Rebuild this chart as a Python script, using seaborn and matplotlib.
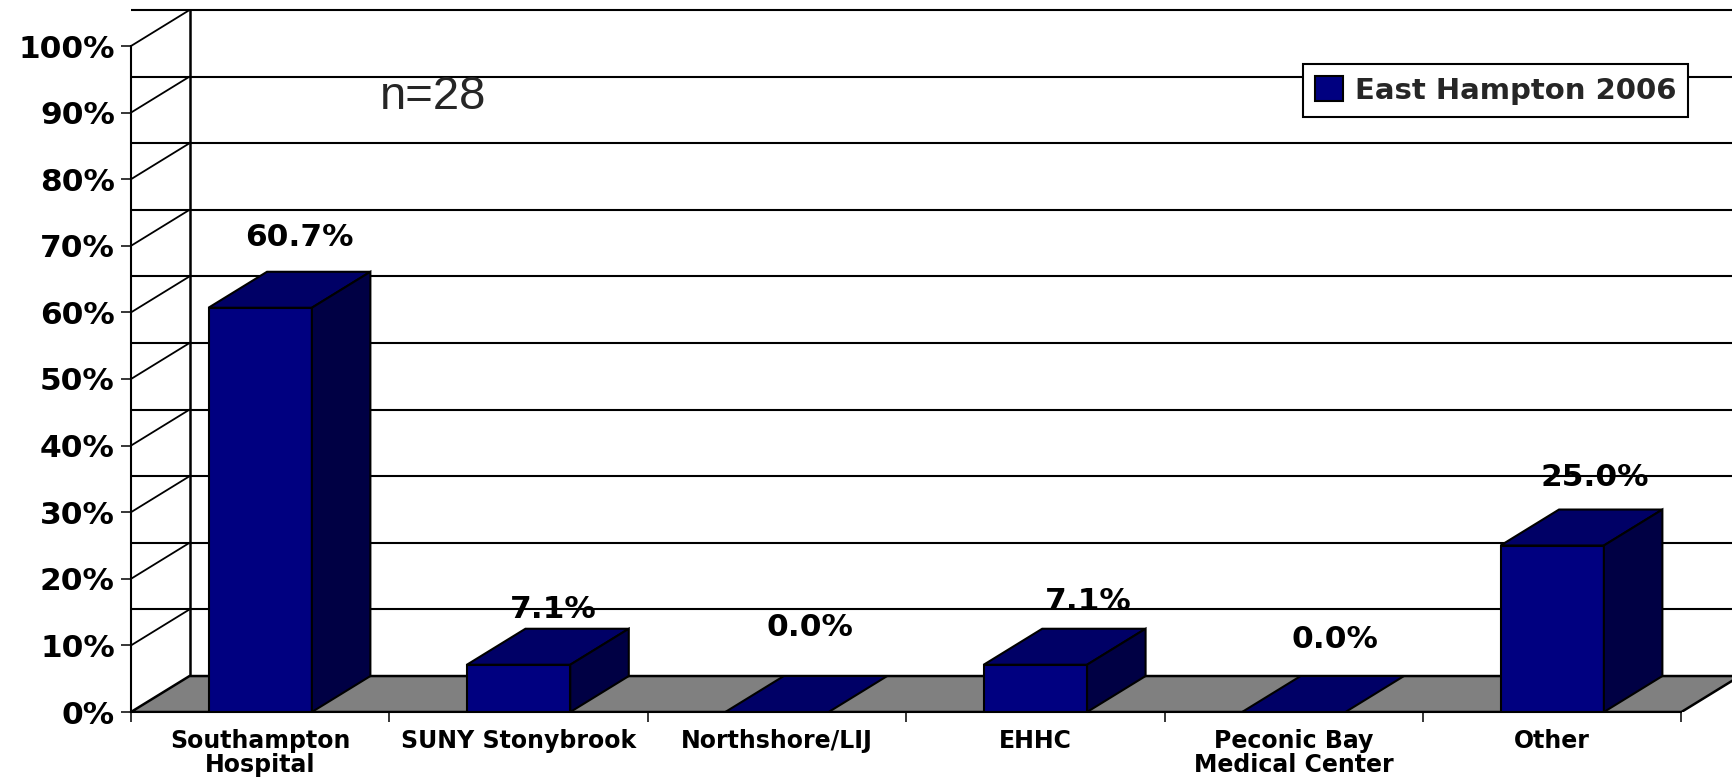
import matplotlib
matplotlib.use("Agg")
import matplotlib.pyplot as plt
import seaborn as sns
from matplotlib.patches import Polygon

# --- data ---
hopitaux = ["Southampton\nHospital", "SUNY Stonybrook", "Northshore/LIJ",
            "EHHC", "Peconic Bay\nMedical Center", "Other"]
valeurs = [60.7, 7.1, 0.0, 7.1, 0.0, 25.0]
etiquettes = ["60.7%", "7.1%", "0.0%", "7.1%", "0.0%", "25.0%"]
graduations = list(range(0, 101, 10))
serie = "East Hampton 2006"

# where each value label sits relative to its bar (pixels)
label_dx = [39, 35, 33, 53, 41, 43]
label_dy = [70, 55, 84, 63, 72, 68]

# --- colours and pseudo 3D depth ---
FACE = "#000080"
TOP = "#000066"
SIDE = "#000044"
FLOOR = "#808080"
DEPTH_X = 0.2264   # in categories
DEPTH_Y = 5.4      # in percent
LW = 1.5

sns.set_theme(style="white")
plt.rcParams["font.family"] = ["DejaVu Sans"]

fig = plt.figure(figsize=(17.32, 7.81), dpi=100)
ax = fig.add_axes([131 / 1732, 69 / 781, 1601 / 1732, 712 / 781])

sns.barplot(x=hopitaux, y=valeurs, color=FACE, saturation=1, width=0.4, ax=ax,
            edgecolor="black", linewidth=LW, zorder=4, label=serie)

ax.set_xlim(-0.5, -0.5 + 1601 / 258.4)
ax.set_ylim(0, 712 / 6.66)

# back wall and left wall
ax.vlines(-0.5 + DEPTH_X, DEPTH_Y, 100 + DEPTH_Y, color="black", lw=LW + 0.3, zorder=2)
for g in graduations[1:]:
    ax.axhline(g + DEPTH_Y, xmin=0, color="black", lw=LW, zorder=1)
    ax.plot([-0.5, -0.5 + DEPTH_X], [g, g + DEPTH_Y], color="black", lw=LW - 0.2, zorder=2)
ax.add_patch(Polygon([(-0.5, 0), (5.5, 0), (5.5 + DEPTH_X, DEPTH_Y), (-0.5 + DEPTH_X, DEPTH_Y)],
                     facecolor=FLOOR, edgecolor="black", lw=LW + 0.3, zorder=3))
ax.plot([-0.5, 5.5], [0, 0], color="black", lw=LW + 0.5, zorder=3.5)

# top and side faces built from the bars seaborn drew
for rect in ax.containers[0]:
    x0, w, h = rect.get_x(), rect.get_width(), rect.get_height()
    x1 = x0 + w
    ax.add_patch(Polygon([(x0, h), (x1, h), (x1 + DEPTH_X, h + DEPTH_Y), (x0 + DEPTH_X, h + DEPTH_Y)],
                         facecolor=TOP, edgecolor="black", lw=LW, zorder=5))
    if h > 0:
        ax.add_patch(Polygon([(x1, 0), (x1 + DEPTH_X, DEPTH_Y), (x1 + DEPTH_X, h + DEPTH_Y), (x1, h)],
                             facecolor=SIDE, edgecolor="black", lw=LW, zorder=5))

# value labels
for rect, txt, dx, dy in zip(ax.containers[0], etiquettes, label_dx, label_dy):
    ax.annotate(txt, (rect.get_x() + rect.get_width() / 2, rect.get_height()),
                xytext=(dx, dy), textcoords="offset pixels", ha="center", va="center",
                fontsize=22.5, fontweight="bold", color="black", zorder=8)

ax.text(0.5 + 0.17, 92.3, "n=28", fontsize=34, family="Liberation Sans", ha="center", va="center", zorder=8)

# axes and ticks
for s in ["top", "right"]:
    ax.spines[s].set_visible(False)
ax.spines["left"].set_bounds(0, 100)
ax.spines["bottom"].set_bounds(-0.5, 5.5)
ax.spines["left"].set_linewidth(LW)
ax.spines["bottom"].set_linewidth(LW)
ax.spines["left"].set_color("black")
ax.spines["bottom"].set_color("black")

ax.set_yticks(graduations, [f"{g}%" for g in graduations])
ax.tick_params(axis="y", left=True, length=7.2, width=LW - 0.2, pad=4.5, labelsize=22.5, labelcolor="black")
for t in ax.get_yticklabels():
    t.set_fontweight("bold")

ax.set_xticks([i - 0.5 for i in range(7)], [""] * 7)
ax.set_xticks(range(6), hopitaux, minor=True)
ax.tick_params(axis="x", which="major", bottom=True, length=7.2, width=LW - 0.2)
ax.tick_params(axis="x", which="minor", bottom=False, length=0, pad=12, labelsize=17, labelcolor="black")
for t in ax.get_xticklabels(minor=True):
    t.set_fontweight("bold")
    t.set_linespacing(1.0)
ax.set_xlabel("")
ax.set_ylabel("")

leg = ax.legend(loc="upper left", bbox_to_anchor=(1303 / 1732, 1 - 64 / 781),
                bbox_transform=fig.transFigure, fancybox=False, framealpha=1,
                edgecolor="black", borderaxespad=0, borderpad=0.42, handlelength=0.95,
                handleheight=0.95, handletextpad=0.4, prop={"size": 21, "weight": "bold"})
leg.get_frame().set_linewidth(LW)
leg.set_zorder(9)

fig.savefig("out.png", dpi=100)
